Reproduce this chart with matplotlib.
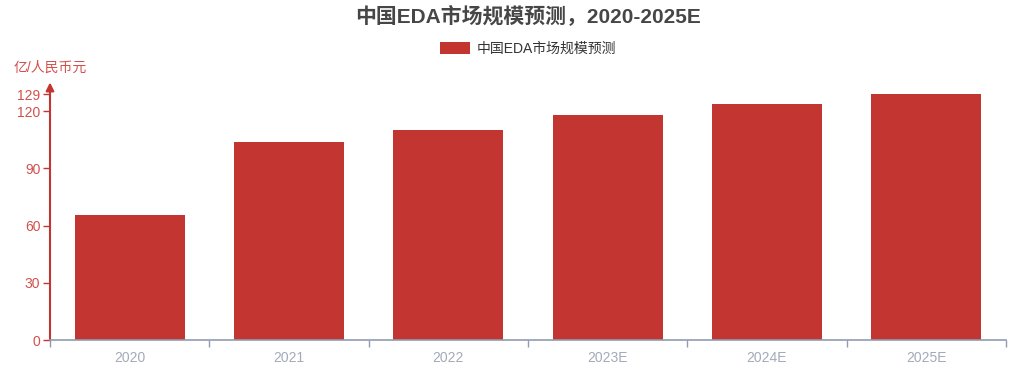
import matplotlib
matplotlib.use("Agg")
import matplotlib.pyplot as plt
import numpy as np

plt.rcParams['font.family'] = ['Liberation Sans', 'Noto Sans CJK SC', 'DejaVu Sans']

# 中国EDA市场规模（亿元）
years = ["2020", "2021", "2022", "2023E", "2024E", "2025E"]
market_size = [65.6, 103.8, 110.3, 117.9, 124.0, 129.0]
series_name = "中国EDA市场规模预测"
y_ticks = [0, 30, 60, 90, 120, 129]

RED = "#c23531"
RED_LABEL = "#d2504b"
GRAY_AXIS = "#8f9cb0"
GRAY_LABEL = "#a3abb8"

fig = plt.figure(figsize=(10.10, 3.67), dpi=100)
W, H = 1010, 367
left, right, bottom, top = 50, 1006, 340, 94
ax = fig.add_axes([left / W, 1 - bottom / H, (right - left) / W, (bottom - top) / H])

x = np.arange(len(years))
ax.bar(x, market_size, width=0.69, color=RED, label=series_name, zorder=2)

ax.set_xlim(-0.5, len(years) - 0.5)
ax.set_ylim(0, max(market_size))

# x axis: labels at category centres, tick marks on category boundaries
ax.set_xticks(x)
ax.set_xticklabels(years, color=GRAY_LABEL, fontsize=10)
ax.tick_params(axis='x', which='major', length=0, pad=8)
ax.set_xticks(np.arange(len(years) + 1) - 0.5, minor=True)
ax.tick_params(axis='x', which='minor', length=5, width=1, color=GRAY_AXIS, direction='out')

# y axis
ax.set_yticks(y_ticks)
ax.set_yticklabels([str(v) for v in y_ticks], color=RED_LABEL, fontsize=10)
ax.tick_params(axis='y', length=5, width=1, color=RED, direction='out', pad=2)

for s in ("top", "right", "left"):
    ax.spines[s].set_visible(False)
ax.spines["bottom"].set_color(GRAY_AXIS)
ax.spines["bottom"].set_linewidth(1.2)
ax.spines["bottom"].set_zorder(3)

# y axis line with arrow head
ax.annotate("", xy=(0, 1.047), xytext=(0, 0), xycoords="axes fraction",
            arrowprops=dict(arrowstyle="-|>", color=RED, lw=1.5,
                            mutation_scale=12, shrinkA=0, shrinkB=0),
            annotation_clip=False)
ax.text(0, (bottom - 68) / (bottom - top), "亿/人民币元", transform=ax.transAxes,
        ha="center", va="center", color=RED_LABEL, fontsize=10)

cx = (left + right) / 2 / W
fig.text(cx, 1 - 16 / H, "中国EDA市场规模预测，2020-2025E", ha="center", va="center",
         fontsize=15, fontweight="bold", color="#464646")

leg = fig.legend(loc="center", bbox_to_anchor=(cx, 1 - 49 / H), frameon=False,
                 fontsize=10, handlelength=2.2, handleheight=1.0, handletextpad=0.5)
for t in leg.get_texts():
    t.set_color("#333333")

fig.savefig("out.png", dpi=100)
